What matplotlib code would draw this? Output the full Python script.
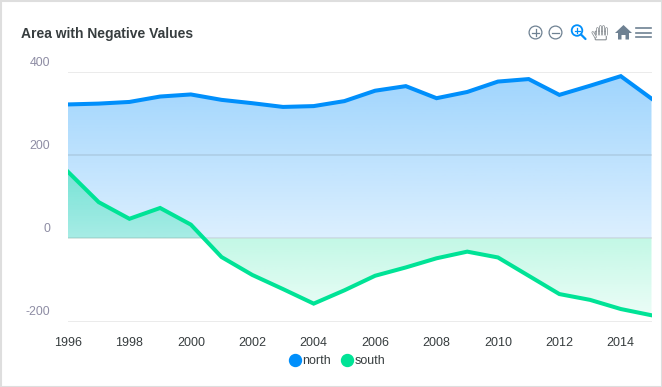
import numpy as np
import matplotlib
matplotlib.use("Agg")
import matplotlib.pyplot as plt
from matplotlib.lines import Line2D
from matplotlib.patches import Circle, Polygon, Rectangle, FancyBboxPatch
from matplotlib.transforms import ScaledTranslation

years = list(range(1996, 2016))
north = [322, 324, 328, 341, 346, 333, 325, 316, 318, 330, 355, 366, 337, 352, 377, 383, 345, 367, 390, 336]
south = [160, 87, 47, 73, 33, -45, -88, -122, -157, -125, -90, -70, -48, -32, -46, -90, -134, -148, -170, -185]
x_ticks = list(range(1996, 2016, 2))
y_ticks = [-200, 0, 200, 400]
title = "Area with Negative Values"

W, H = 662, 387
plt.rcParams['font.family'] = ['Liberation Sans', 'DejaVu Sans']
plt.rcParams['axes.unicode_minus'] = False
fig = plt.figure(figsize=(W / 100, H / 100), dpi=100)
ax = fig.add_axes([68 / W, 1 - 321.5 / H, (651.5 - 68) / W, (321.5 - 72) / H])


def gradient_fill(ax, x, y, color, a_top, a_bottom):
    # gradient image, clipped to the area under the series
    poly = ax.fill_between(x, y, 0, facecolor='none', edgecolor='none')
    rgb = matplotlib.colors.to_rgb(color)
    img = np.zeros((256, 1, 4))
    img[:, :, :3] = rgb
    img[:, 0, 3] = np.linspace(a_top, a_bottom, 256)
    top, bottom = max(max(y), 0), min(min(y), 0)
    im = ax.imshow(img, extent=[x[0], x[-1], bottom, top], aspect='auto', zorder=1)
    im.set_clip_path(poly.get_paths()[0], ax.transData)


gradient_fill(ax, years, north, '#008FFB', 0.38, 0.14)
gradient_fill(ax, years, south, '#00E396', 0.38, 0.08)

ax.grid(axis='y', color='#555555', alpha=0.12, lw=1.4, zorder=2)
ax.set_axisbelow(False)
ax.plot(years, north, color='#008FFB', lw=2.9, zorder=3, solid_joinstyle='miter', label='north')
ax.plot(years, south, color='#00E396', lw=2.9, zorder=3, solid_joinstyle='miter', label='south')

ax.set_xlim(1996, 2015)
ax.set_ylim(-200, 400)
ax.set_xticks(x_ticks)
ax.set_yticks(y_ticks)
ax.tick_params(axis='both', length=0)
ax.tick_params(axis='x', pad=11, labelsize=9, labelcolor='#373d3f')
ax.tick_params(axis='y', pad=13, labelsize=8.9, labelcolor='#8e8da4')
for lab in ax.get_yticklabels():
    lab.set_verticalalignment('center')
    lab.set_transform(lab.get_transform() + ScaledTranslation(0, 9.5 / 72 * 0.72, fig.dpi_scale_trans))
for s in ax.spines.values():
    s.set_visible(False)

fig.text(21 / W, 1 - 33.8 / H, title, fontsize=10, fontweight='bold', color='#373d3f', va='center')

handles = [Line2D([], [], ls='', marker='o', ms=8.6, color=c) for c in ['#008FFB', '#00E396']]
fig.legend(handles, ['north', 'south'], loc='center', bbox_to_anchor=(335.5 / W, 1 - 361.5 / H), ncol=2,
           frameon=False, fontsize=9, handletextpad=-0.1, columnspacing=0.6, labelcolor='#373d3f',
           handlelength=1.4, borderpad=0)

# toolbar icons and the card border, in pixel coordinates
ov = fig.add_axes([0, 0, 1, 1], facecolor='none')
ov.set_xlim(0, W)
ov.set_ylim(H, 0)
ov.axis('off')
grey = '#6e8192'
blue = '#008FFB'
for cx in [535.5, 555.5]:
    ov.add_patch(Circle((cx, 32.5), 6.4, fill=False, ec=grey, lw=0.9))
    ov.plot([cx - 3.5, cx + 3.5], [32.5, 32.5], color=grey, lw=0.9)
ov.plot([535.5, 535.5], [29, 36], color=grey, lw=0.9)
ov.add_patch(Circle((577, 30.5), 5.3, fill=False, ec=blue, lw=1.3))
ov.plot([581, 585.5], [34.5, 39], color=blue, lw=1.6, solid_capstyle='round')
ov.plot([574.5, 579.5], [30.5, 30.5], color=blue, lw=0.9)
ov.plot([577, 577], [28, 33], color=blue, lw=0.9)
# hand
hand = '#8a8f94'
ov.add_patch(FancyBboxPatch((596, 32), 9.5, 7, boxstyle='round,pad=0.8', fc='white', ec=hand, lw=0.8))
ov.plot([595.5, 592.8], [37, 32.5], color=hand, lw=1.9, solid_capstyle='round')
ov.plot([595.5, 592.8], [37, 32.5], color='white', lw=0.8, solid_capstyle='round')
for hx, top in [(596.5, 28), (599.5, 25.8), (602.5, 25.8), (605.5, 27.5)]:
    ov.plot([hx, hx], [top, 33.5], color=hand, lw=1.9, solid_capstyle='round')
    ov.plot([hx, hx], [top, 34.5], color='white', lw=0.8, solid_capstyle='round')
# home
ov.add_patch(Polygon([[615, 33], [623.5, 25], [632, 33], [629, 33], [629, 39.5], [625.5, 39.5], [625.5, 35],
                      [621.5, 35], [621.5, 39.5], [618, 39.5], [618, 33]], closed=True, fc=grey, ec='none'))
for my in [28, 32.5, 37]:
    ov.plot([636, 651], [my, my], color=grey, lw=1.2)
ov.add_patch(Rectangle((0.5, 0.5), W - 1, H - 1, fill=False, ec='#dedede', lw=1.5))

fig.savefig("out.png", dpi=100)
